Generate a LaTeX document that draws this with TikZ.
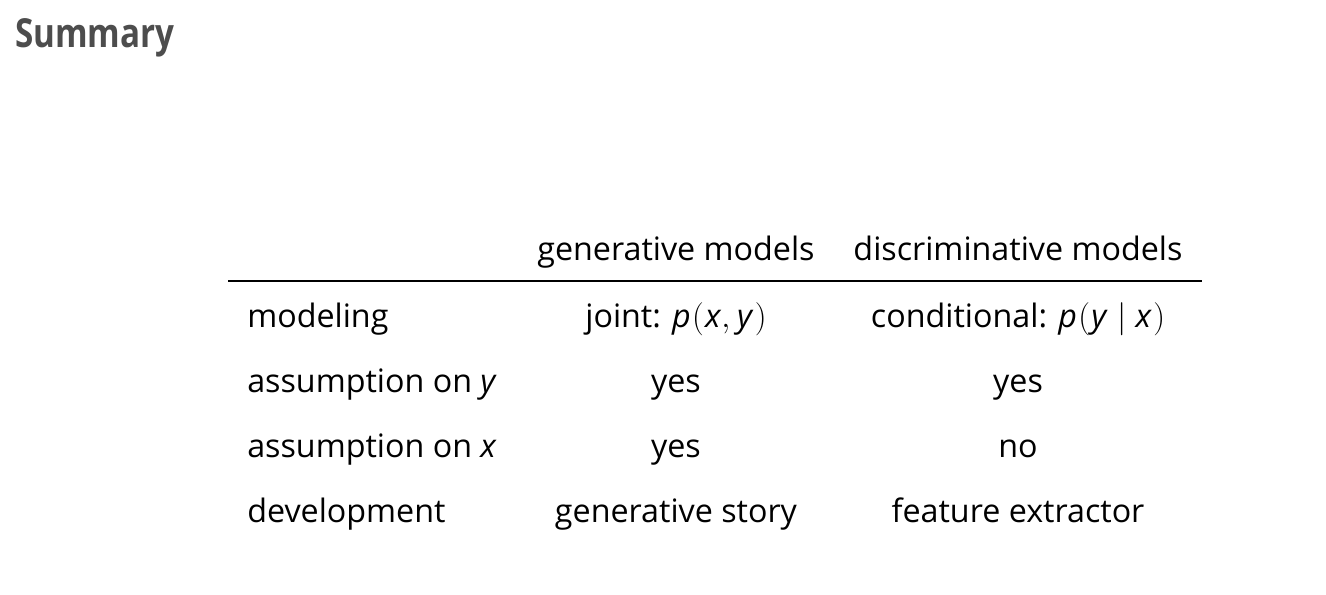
\documentclass[tikz,border=0pt]{standalone}
\usepackage{fontspec}
\setmainfont{Open Sans}
\newfontfamily\titlefont[FakeStretch=0.83]{Open Sans}
\definecolor{titlegray}{HTML}{4D4D4D}
\newcommand{\mv}[1]{\textit{#1}}

\begin{document}
\begin{tikzpicture}[x=0.75pt,y=-0.75pt,
    cell/.style={anchor=base,inner sep=0pt,font=\fontsize{24.2}{29}\selectfont},
    rowname/.style={cell,anchor=base west}]
            \useasboundingbox (0,0) rectangle (1326,595);
            \node[anchor=base west,inner sep=0pt,text=titlegray,font=\titlefont\bfseries\fontsize{30}{36}\selectfont] (title) at (15,48) {Summary};
            % header
            \node[cell] (genhead) at (676,260) {generative models};
            \node[cell] (dishead) at (1018,260) {discriminative models};
            \coordinate (ruleL) at (228,281);
            \coordinate (ruleR) at (1202,281);
            \draw[line width=1pt] (ruleL)--(ruleR);
            % rows
            \node[rowname] (r1) at (247,327) {modeling};
            \node[rowname] (r2) at (247,392) {assumption on \mv{y}};
            \node[rowname] (r3) at (247,457) {assumption on \mv{x}};
            \node[rowname] (r4) at (247,522) {development};
            \node[cell] (g1) at (676,327) {joint: \mv{p}\kern1pt$\big($\kern1pt\mv{x}$,$\kern5pt\mv{y}\kern1pt$\big)$};
            \node[cell] (d1) at (1018,327) {conditional: \mv{p}\kern1pt$\big($\kern1pt\mv{y}\kern7pt$|$\kern7pt\mv{x}\kern1pt$\big)$};
            \node[cell] (g2) at (676,392) {yes};
            \node[cell] (d2) at (1018,392) {yes};
            \node[cell] (g3) at (676,457) {yes};
            \node[cell] (d3) at (1018,457) {no};
            \node[cell] (g4) at (676,522) {generative story};
            \node[cell] (d4) at (1018,522) {feature extractor};
\end{tikzpicture}
\end{document}
